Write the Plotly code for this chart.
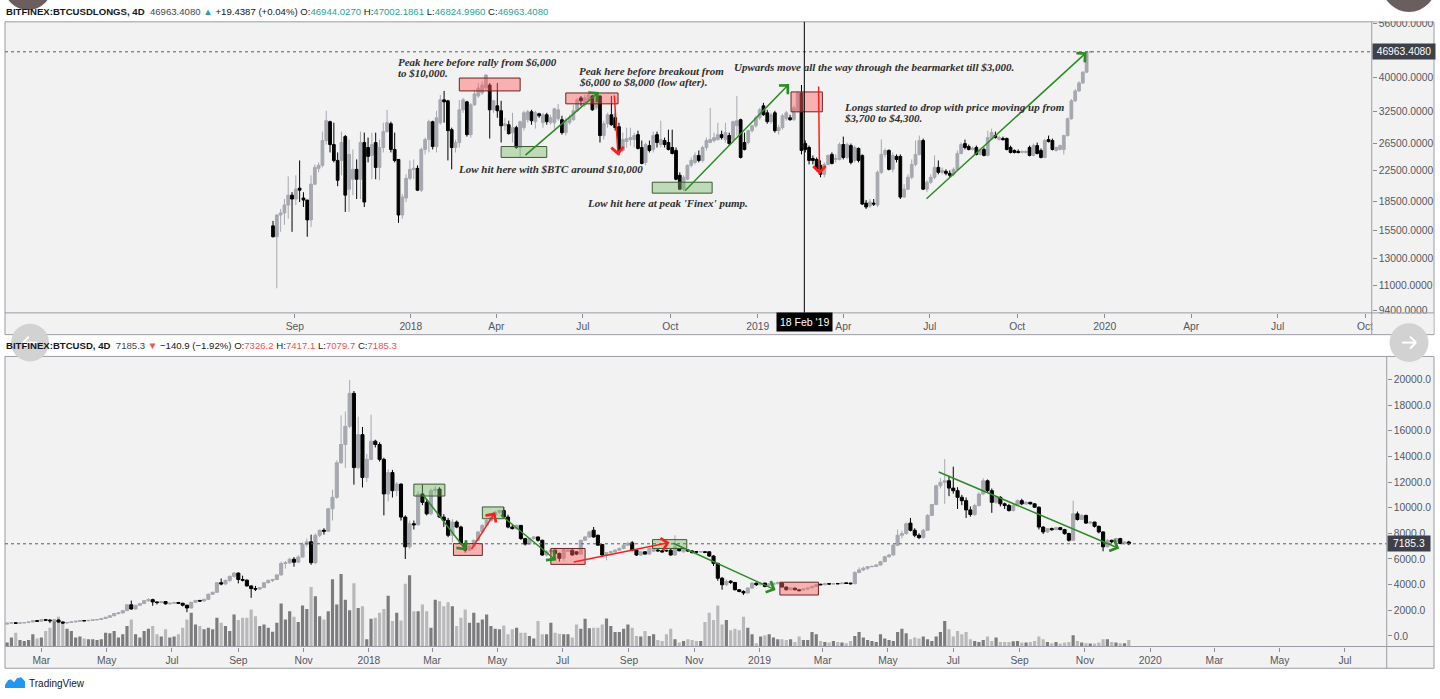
import numpy as np
import pandas as pd
import plotly.graph_objects as go

W, H = 1440, 699

# ===================== DATA =====================
# BITFINEX:BTCUSDLONGS, 4D candles
longs_first_date = "2017-08-09"
longs_open = [
    15910, 14870, 17020, 17240, 18110, 19260, 18800, 20110, 18920, 18680,
    16510, 20620, 22750, 23180, 27050, 30410, 26380, 23900, 23900, 27720,
    19990, 21260, 22610, 21260, 26710, 25900, 24660, 26710, 22890, 25900,
    28590, 30030, 25590, 24050, 17020, 18920, 21390, 22610, 22750, 19870,
    25590, 27210, 30410, 26060, 30220, 34830, 34620, 28940, 25900, 26710,
    32740, 34400, 28060, 33770, 35690, 36360, 37500, 38200, 32740, 33560,
    32550, 29650, 29840, 28410, 29300, 25900, 29300, 30790, 32340, 30410,
    31950, 30220, 31750,
    30220, 30220, 30980, 30790, 28410, 30220, 30790, 32550, 35260, 33770,
    34830, 35690, 33150, 35690, 27900, 30030, 31750, 31160, 29470, 25430,
    26880, 27210, 27210, 28060, 25900, 23610, 26210, 25590, 28060, 26380,
    27050, 26710, 25900, 25430, 21790, 19990, 21260, 23180, 23610, 24660,
    23900, 25900, 26710, 27050, 27210, 28060, 27210, 27900, 27210, 29650,
    30790, 26710, 26710, 28760, 29650, 31160, 33560, 32140, 30410, 32140,
    28760, 29300, 30980, 31160, 30790, 32550, 36360, 26540, 25900, 24200,
    24050, 23180,
    21930, 23320, 24810, 24050, 24050, 26380, 24350, 26210, 23900, 25750,
    24660, 18330, 18000, 18330, 18110, 22200, 24810, 25430, 22610, 24510,
    24510, 19030, 19990, 21520, 23320, 24810, 27050, 19990, 20870, 21520,
    22890, 22200, 22340, 22060, 21930, 22610, 24960, 26540, 26060, 25590,
    25900, 24810, 25590, 24660, 27380, 27900, 27210, 27380, 27380, 25900,
    25430, 25270, 25120, 25120, 25900, 24660, 26210, 25430, 24350, 27210,
    27050, 25430, 25590, 25590, 27900, 30980, 34620, 36820, 38680, 41380,
    46944.0270,
]
longs_high = [
    16410, 17130, 17680, 18800, 21650, 19620, 21790, 23900, 19620, 18700,
    21790, 23320, 23610, 28590, 32550, 30600, 30220, 25120, 28590, 28000,
    27210, 25590, 24050, 28590, 28410, 27550, 28410, 28410, 27210, 30220,
    32740, 30410, 28410, 24100, 19380, 21930, 23900, 24050, 23180, 25900,
    27550, 30790, 30600, 32550, 35910, 36820, 34830, 29300, 27210, 34830,
    35260, 34620, 34190, 37060, 38680, 39130, 40890, 38680, 34830, 38680,
    34620, 31160, 30600, 32140, 29650, 30600, 32550, 32740, 32740, 32550,
    32140, 32140, 32140,
    31750, 33150, 33980, 31550, 31160, 31750, 33770, 35260, 35690, 35910,
    36820, 35910, 36360, 35800, 30600, 32140, 35690, 32140, 30220, 28410,
    29300, 29300, 28410, 28760, 27050, 26710, 27050, 28590, 28590, 30600,
    27550, 28940, 28940, 25900, 22200, 21790, 23320, 24350, 25120, 25430,
    26210, 27550, 33150, 28410, 30220, 28760, 30220, 28410, 30600, 35690,
    30980, 28410, 28940, 29840, 31550, 33150, 34190, 32740, 32140, 32550,
    29840, 31950, 32550, 31750, 33560, 36820, 38200, 27050, 26210, 24660,
    24350, 23900,
    23610, 24810, 25120, 24810, 26710, 27720, 26710, 26540, 26210, 25900,
    24810, 18680, 18800, 18800, 22470, 27210, 25750, 25590, 25120, 24810,
    24810, 20620, 21930, 24050, 27050, 27900, 27380, 21130, 21930, 24660,
    23900, 22890, 22610, 22470, 22890, 25430, 26710, 27210, 26380, 26060,
    26210, 25750, 25900, 28760, 29130, 28590, 27900, 27720, 27550, 26210,
    25590, 25590, 25430, 25430, 26210, 26540, 26710, 25750, 27380, 27900,
    27380, 26060, 26380, 28060, 31160, 35040, 37270, 39130, 41630, 46990,
    47002.1861,
]
longs_low = [
    14800, 10790, 15330, 16010, 16620, 15330, 18110, 18450, 17890, 14870,
    15810, 20490, 22200, 22890, 26380, 25120, 23610, 20360, 21790, 17350,
    17350, 19260, 18800, 18800, 17890, 23610, 21260, 21260, 21130, 25120,
    28410, 25120, 23610, 16210, 16620, 18450, 21130, 21260, 19750, 19620,
    24810, 25120, 25590, 25120, 29840, 30220, 23900, 22610, 25120, 25900,
    32140, 27720, 27550, 33560, 35260, 35910, 36820, 27380, 32140, 31160,
    26710, 28760, 28060, 26710, 25700, 24350, 28760, 30220, 29840, 29130,
    31160, 29300, 29840,
    29840, 29130, 30600, 28060, 27900, 29840, 30600, 32340, 33560, 33360,
    34400, 32550, 32740, 26710, 27210, 29300, 29650, 28760, 24660, 25120,
    25900, 26210, 25900, 25590, 23320, 23180, 25120, 25120, 25900, 25900,
    25900, 25430, 24810, 21130, 19870, 19750, 21130, 22890, 23320, 23610,
    23610, 25430, 26710, 26710, 27050, 27210, 26710, 26210, 26710, 27900,
    24200, 25430, 26380, 28410, 29300, 30790, 31550, 30030, 30030, 28410,
    28060, 28940, 30600, 30600, 30600, 32140, 24810, 25120, 23320, 23320,
    22340, 21520,
    21520, 23180, 23320, 23610, 23900, 24050, 24050, 23320, 23610, 23610,
    18110, 17680, 17780, 18000, 17890, 21930, 24350, 22470, 22200, 23610,
    18800, 18920, 19870, 21260, 23040, 24660, 19870, 19620, 20620, 21260,
    21930, 21930, 21790, 21520, 21650, 22470, 24810, 25590, 25430, 25430,
    24660, 24660, 24510, 24510, 27210, 27380, 27050, 27050, 25430, 24960,
    24960, 24960, 24960, 24960, 24510, 24510, 24810, 24200, 24200, 26710,
    25430, 25270, 25430, 24810, 27720, 30790, 34400, 36590, 38440, 41140,
    46824.9960,
]
longs_close = [
    14870, 17020, 17240, 18110, 19260, 18800, 19990, 19870, 18680, 16510,
    20620, 22890, 23180, 27050, 30600, 26380, 23900, 21130, 26710, 19260,
    24810, 22610, 21260, 26710, 18450, 24510, 26380, 22890, 25900, 28590,
    30220, 25590, 23900, 17020, 19030, 21390, 22610, 22750, 19870, 25590,
    27210, 30410, 26060, 31160, 34830, 34400, 28760, 25900, 26710, 32740,
    34830, 28060, 33770, 36150, 37500, 38200, 40640, 32740, 34620, 32550,
    29650, 30030, 28240, 29300, 25900, 30410, 32140, 32340, 30600, 32140,
    31550, 31750, 30410,
    31160, 32940, 32740, 28410, 30600, 31160, 32550, 34830, 34620, 35260,
    35910, 32740, 35910, 27900, 30030, 31750, 29840, 29300, 25430, 27210,
    27380, 27550, 27900, 25750, 23460, 26380, 25430, 27900, 26710, 27210,
    26380, 25590, 24960, 21260, 19990, 21520, 23180, 23900, 24660, 23900,
    25900, 27050, 27210, 27550, 28060, 27550, 28410, 26540, 30410, 30600,
    24350, 25590, 28760, 29650, 31160, 32740, 31750, 30410, 31750, 28760,
    29300, 31550, 32140, 30790, 33150, 36360, 25430, 25590, 23900, 23900,
    22610, 21930,
    23320, 24660, 23460, 24200, 26380, 24350, 26380, 23610, 25900, 23900,
    18220, 17890, 18450, 18220, 22200, 24810, 25430, 22610, 24660, 24050,
    19030, 19990, 21520, 23320, 24810, 27050, 19990, 20870, 21520, 22890,
    22200, 22470, 22060, 21790, 22610, 24960, 26380, 25900, 25590, 25750,
    24810, 25430, 24660, 27550, 28410, 27550, 27550, 27210, 25590, 25120,
    25120, 25120, 25270, 25270, 24660, 26210, 24960, 24350, 27050, 26880,
    25590, 25900, 26210, 27900, 30980, 34620, 36820, 38680, 41380, 46943.9693,
    46963.4080,
]
longs_price_ticks = [9400, 11000, 13000, 15500, 18500, 22500, 26500, 32500, 40000, 56000]

# BITFINEX:BTCUSD, 4D candles + volume
btc_first_date = "2017-01-28"
btc_open = [
    920, 995, 1020, 990, 1010, 1040, 1085, 1180, 1150, 1260,
    1230, 1180, 1240, 1080, 1010, 1050, 1090, 1140, 1190, 1180,
    1210, 1250, 1280, 1360, 1450, 1570, 1750, 1790, 1970, 2430,
    2100, 2390, 2520, 2750, 2830, 2650, 2600, 2680, 2500, 2550,
    2600, 2550, 2400, 2180, 2620, 2770, 2720, 2850, 3250, 3400,
    4150, 4050, 4330, 4650, 4900, 4400, 4350, 3900, 3700, 3650,
    3770, 4150, 4330, 4400, 4760, 5650, 5700, 5980, 5750, 6150,
    7150, 7340, 5710, 7850, 8240, 8170, 9910, 10810, 13510, 14930,
    16350, 18920, 13130, 15700, 12360, 13770, 15190, 14930, 13770, 11070,
    12740, 11330, 11840, 9270, 6950, 8750, 8670, 11070, 10420, 9520,
    11330, 11450, 9270, 9010, 7850, 8880, 8490, 7210, 6690, 7000,
    7460, 8110, 8620, 9010, 9400, 9650, 9780, 9270, 8490, 8370,
    8620, 7590, 7160, 7590, 7720, 7460, 6310, 6560, 6690, 6430,
    6050, 6600, 6690, 6560, 6380, 7460, 7720, 8240, 7850, 7130,
    6310, 6490, 6560, 6690, 6820, 7080, 7260, 6690, 6310, 6560,
    6380, 6600, 6700, 6640, 6680, 6690, 6310, 6820, 6560, 6700,
    6620, 6560, 6540, 6560, 6560, 6230, 5660, 4500, 3990, 4270,
    4170, 3600, 3470, 3350, 3730, 4120, 3990, 4120, 3920, 3990,
    4070, 4120, 3810, 3600, 3730, 3600, 3580, 3650, 3760, 3860,
    4030, 3990, 4070, 4050, 4080, 4070, 4140, 4120, 4070, 4940,
    5150, 5280, 5400, 5420, 5530, 5790, 6180, 6310, 7080, 7850,
    7980, 8800, 8240, 7850, 7670, 8240, 9400, 10250, 11710, 11970,
    12100, 11530, 11330, 10810, 10550, 9830, 9470, 10170, 11070, 12100,
    11330, 10420, 10810, 10300, 10170, 9780, 10170, 10550, 10300, 10420,
    10300, 10040, 8490, 8110, 8370, 8290, 8440, 8290, 7980, 7460,
    9520, 9080, 9400, 8800, 8880, 8550, 8110, 6950, 7460, 7340,
    7590, 7210, 7326.2,
]
btc_high = [
    1005, 1030, 1040, 1020, 1045, 1090, 1190, 1210, 1280, 1290,
    1320, 1260, 1260, 1110, 1070, 1100, 1160, 1210, 1230, 1220,
    1260, 1300, 1380, 1480, 1620, 1780, 1860, 2000, 2450, 2760,
    2420, 2550, 2800, 2950, 2900, 2700, 2720, 2700, 2580, 2650,
    2650, 2580, 2420, 2650, 2800, 2800, 2900, 3300, 3450, 4200,
    4480, 4400, 4700, 4980, 4950, 4700, 4400, 3950, 3900, 3800,
    4200, 4400, 4450, 4800, 5800, 5850, 6100, 6150, 6300, 7300,
    7600, 7900, 8000, 8300, 8400, 10000, 11400, 13700, 17200, 17500,
    19950, 19100, 17100, 16300, 14200, 17250, 15300, 15100, 13900, 13000,
    12950, 12000, 11900, 9400, 9000, 9000, 11300, 11800, 10700, 11500,
    11700, 11600, 9500, 9200, 9100, 9000, 8600, 7300, 7100, 7500,
    8200, 8700, 9100, 9500, 9750, 9850, 10050, 9450, 8650, 8700,
    8650, 7650, 7650, 7800, 7750, 7500, 6700, 6800, 6750, 6500,
    6800, 6800, 6750, 6600, 7500, 7800, 8200, 8500, 7900, 7150,
    6550, 6650, 6750, 6900, 7150, 7350, 7400, 6700, 6600, 6600,
    6850, 6850, 6750, 6700, 6720, 6750, 7850, 6850, 6800, 6750,
    6700, 6620, 6620, 6620, 6600, 6300, 5700, 4600, 4400, 4350,
    4200, 3650, 3550, 3800, 4200, 4150, 4150, 4150, 4100, 4150,
    4250, 4150, 3850, 3780, 3750, 3620, 3700, 3750, 3900, 4050,
    4070, 4150, 4100, 4120, 4100, 4150, 4160, 4150, 5050, 5350,
    5400, 5450, 5500, 5600, 5850, 6250, 6400, 7150, 8300, 8200,
    8850, 9200, 8400, 8000, 8350, 9500, 10300, 11800, 12300, 13800,
    12500, 13200, 11600, 11000, 10800, 10100, 10300, 11200, 12300, 12200,
    11500, 10900, 10900, 10400, 10300, 10300, 10650, 10700, 10500, 10450,
    10350, 10100, 8550, 8400, 8450, 8500, 8500, 8350, 8050, 10550,
    9700, 9500, 9450, 8950, 8900, 8600, 8150, 7550, 7500, 7650,
    7650, 7400, 7417.1,
]
btc_low = [
    910, 985, 960, 975, 1000, 1030, 1080, 1120, 1140, 1170,
    1000, 1160, 1050, 940, 950, 1030, 1070, 1130, 1160, 1170,
    1195, 1210, 1270, 1340, 1440, 1550, 1660, 1760, 1950, 2050,
    2050, 2350, 2500, 2650, 2350, 2450, 2550, 2450, 2450, 2500,
    2500, 2300, 1850, 2150, 2580, 2650, 2700, 2800, 3200, 3380,
    3950, 4000, 4200, 4550, 4100, 4250, 3850, 2970, 3500, 3580,
    3750, 4100, 4200, 4380, 4700, 5250, 5600, 5400, 5700, 6100,
    6950, 5550, 5600, 7700, 7900, 8100, 9000, 10700, 13400, 13100,
    16200, 11800, 13000, 11580, 12000, 13700, 14700, 13600, 9400, 10500,
    10800, 10900, 9000, 6000, 6800, 8300, 8600, 10200, 9400, 9400,
    11000, 9200, 8500, 7700, 7300, 8400, 7100, 6500, 6600, 6900,
    7400, 8000, 8500, 8900, 9300, 9500, 9200, 8400, 8300, 8300,
    7500, 7050, 7100, 7500, 7350, 6250, 6200, 6450, 6350, 5800,
    5850, 6550, 6250, 6300, 6350, 7400, 7650, 7650, 7050, 6250,
    5900, 6300, 6450, 6600, 6750, 7000, 6600, 6250, 6250, 6350,
    6350, 6550, 6550, 6500, 6550, 6250, 6250, 6600, 6500, 6550,
    6450, 6480, 6500, 6450, 6150, 5450, 4300, 3600, 3900, 4050,
    3550, 3400, 3200, 3300, 3700, 3900, 3950, 3800, 3880, 3950,
    4050, 3780, 3550, 3580, 3560, 3480, 3550, 3620, 3700, 3820,
    3960, 3950, 4010, 4000, 4050, 4050, 4050, 4020, 4050, 4900,
    5050, 5150, 5350, 5380, 5500, 5750, 6100, 6250, 7000, 7600,
    7900, 8150, 7700, 7550, 7600, 8200, 9350, 10200, 11500, 10300,
    10900, 11100, 9900, 10200, 9200, 9300, 9350, 10100, 11000, 11200,
    9600, 10300, 10100, 9900, 9700, 9700, 10100, 10200, 10200, 10250,
    10000, 8300, 7950, 8050, 8200, 8250, 8250, 7900, 7350, 7400,
    9000, 9050, 8750, 8700, 8450, 8000, 6600, 6900, 7250, 7300,
    7150, 7100, 7079.7,
]
btc_close = [
    995, 1020, 990, 1010, 1040, 1085, 1180, 1150, 1260, 1230,
    1180, 1240, 1080, 1010, 1050, 1090, 1140, 1190, 1180, 1210,
    1250, 1280, 1360, 1450, 1570, 1750, 1790, 1970, 2430, 2100,
    2390, 2520, 2750, 2830, 2650, 2600, 2680, 2500, 2550, 2600,
    2550, 2400, 2180, 2620, 2770, 2720, 2850, 3250, 3400, 4150,
    4050, 4330, 4650, 4900, 4400, 4350, 3900, 3700, 3650, 3770,
    4150, 4330, 4400, 4760, 5650, 5700, 5980, 5750, 6150, 7150,
    7340, 5710, 7850, 8240, 8170, 9910, 10810, 13510, 14930, 16350,
    18920, 13130, 15700, 12360, 13770, 15190, 14930, 13770, 11070, 12740,
    11330, 11840, 9270, 6950, 8750, 8670, 11070, 10420, 9520, 11330,
    11450, 9270, 9010, 7850, 8880, 8490, 7210, 6690, 7000, 7460,
    8110, 8620, 9010, 9400, 9650, 9780, 9270, 8490, 8370, 8620,
    7590, 7160, 7590, 7720, 7460, 6310, 6560, 6690, 6430, 6050,
    6740, 6690, 6310, 6380, 7460, 7720, 8110, 7720, 7080, 6310,
    6490, 6560, 6690, 6820, 7080, 7210, 6690, 6310, 6560, 6380,
    6820, 6820, 6640, 6560, 6640, 6310, 6950, 6640, 6740, 6640,
    6490, 6540, 6580, 6520, 6230, 5660, 4500, 3990, 4250, 4170,
    3600, 3470, 3350, 3730, 4120, 3990, 4120, 3860, 4070, 4120,
    4170, 3810, 3600, 3730, 3600, 3530, 3650, 3730, 3860, 3990,
    3990, 4070, 4050, 4070, 4070, 4120, 4090, 4070, 4940, 5150,
    5280, 5400, 5420, 5530, 5790, 6180, 6310, 7080, 7850, 7980,
    8750, 8240, 7850, 7670, 8240, 9400, 10250, 11710, 11970, 12100,
    11530, 11330, 10810, 10550, 9830, 9470, 10170, 11070, 12100, 11330,
    10420, 10810, 10300, 10170, 9780, 10170, 10550, 10300, 10420, 10300,
    10040, 8490, 8110, 8370, 8290, 8440, 8290, 7980, 7460, 9520,
    9080, 9400, 8800, 8880, 8550, 8110, 6950, 7460, 7340, 7590,
    7210, 7326.2, 7185.3,
]
btc_volume = [
    12, 27, 42, 20, 17, 20, 37, 24, 27, 47,
    57, 82, 90, 77, 54, 47, 27, 30, 24, 22,
    22, 20, 22, 42, 40, 47, 27, 37, 62, 82,
    37, 27, 47, 54, 62, 37, 30, 52, 27, 30,
    37, 57, 82, 102, 67, 62, 52, 57, 52, 87,
    72, 62, 47, 97, 80, 87, 87, 112, 92, 62,
    67, 57, 45, 72, 130, 82, 107, 90, 74, 124,
    114, 180, 152, 92, 82, 107, 204, 127, 220, 142,
    110, 192, 117, 122, 22, 84, 87, 102, 114, 154,
    77, 102, 79, 190, 216, 107, 107, 127, 107, 57,
    142, 137, 122, 134, 122, 62, 87, 112, 72, 102,
    72, 82, 97, 62, 54, 52, 64, 37, 52, 57,
    42, 42, 32, 24, 77, 37, 37, 72, 42, 39,
    37, 37, 27, 67, 54, 84, 55, 57, 57, 67,
    85, 62, 44, 44, 54, 67, 57, 32, 30, 47,
    32, 37, 20, 17, 37, 54, 22, 12, 17, 22,
    20, 17, 17, 74, 102, 80, 124, 67, 80, 49,
    54, 49, 90, 57, 37, 10, 30, 34, 37, 27,
    22, 22, 20, 22, 14, 30, 20, 20, 44, 37,
    17, 14, 12, 17, 14, 12, 10, 17, 32, 44,
    27, 20, 17, 14, 37, 24, 20, 17, 44, 54,
    40, 22, 27, 24, 30, 22, 17, 30, 44, 77,
    52, 30, 47, 37, 44, 22, 17, 14, 20, 30,
    17, 27, 14, 14, 14, 16, 17, 12, 12, 14,
    17, 30, 22, 14, 10, 14, 9, 12, 14, 34,
    17, 12, 10, 9, 9, 12, 22, 22, 14, 12,
    10, 10, 20,
]
btc_price_ticks = [0, 2000, 4000, 6000, 8000, 10000, 12000, 14000, 16000, 18000, 20000]

top_date_ticks = ["2017-09-01", "2018-01-01", "2018-04-01", "2018-07-01", "2018-10-01",
                  "2019-01-01", "2019-04-01", "2019-07-01", "2019-10-01", "2020-01-01",
                  "2020-04-01", "2020-07-01", "2020-10-01"]
top_date_labels = ["Sep", "2018", "Apr", "Jul", "Oct", "2019", "Apr", "Jul", "Oct",
                   "2020", "Apr", "Jul", "Oct"]
bot_date_ticks = ["2017-03-01", "2017-05-01", "2017-07-01", "2017-09-01", "2017-11-01",
                  "2018-01-01", "2018-03-01", "2018-05-01", "2018-07-01", "2018-09-01",
                  "2018-11-01", "2019-01-01", "2019-03-01", "2019-05-01", "2019-07-01",
                  "2019-09-01", "2019-11-01", "2020-01-01", "2020-03-01", "2020-05-01",
                  "2020-07-01"]
bot_date_labels = ["Mar", "May", "Jul", "Sep", "Nov", "2018", "Mar", "May", "Jul", "Sep",
                   "Nov", "2019", "Mar", "May", "Jul", "Sep", "Nov", "2020", "Mar", "May", "Jul"]

longs_dates = pd.date_range(longs_first_date, periods=len(longs_close), freq="4D")
btc_dates = pd.date_range(btc_first_date, periods=len(btc_close), freq="4D")

# ===================== STYLE =====================
UP = "#a6a8b0"
DOWN = "#000000"
BG = "#f2f2f2"
FRAME = "#9a9ca4"
TICK = "#54575f"
TEAL = "#26a69a"
REDV = "#ef5350"
SANS = "Liberation Sans"
SERIF = "Liberation Serif"
GREEN = "#2a8c22"
RED = "#ff1e1e"

TOP_LOG_RANGE = [np.log10(9262), np.log10(56590)]


def px(x):
    return x / W


def py(y):
    return 1 - y / H


def lg(v):
    return float(np.log10(v))


def top_frac(p):
    # position of a price inside the top (log) pane, as a fraction of its height
    return (lg(p) - TOP_LOG_RANGE[0]) / (TOP_LOG_RANGE[1] - TOP_LOG_RANGE[0])


fig = go.Figure()

fig.add_trace(go.Candlestick(
    x=longs_dates, open=longs_open, high=longs_high, low=longs_low, close=longs_close,
    xaxis="x", yaxis="y", whiskerwidth=0, hoverinfo="skip", showlegend=False,
    increasing=dict(line=dict(color=UP, width=1), fillcolor=UP),
    decreasing=dict(line=dict(color=DOWN, width=1), fillcolor=DOWN)))

vol_colors = ["#7c7c7e" if c >= o else "#b9b9bb" for o, c in zip(btc_open, btc_close)]
fig.add_trace(go.Bar(
    x=btc_dates, y=btc_volume, xaxis="x2", yaxis="y2", width=4 * 86400000 * 0.74,
    marker=dict(color=vol_colors, line=dict(width=0)), hoverinfo="skip", showlegend=False))

fig.add_trace(go.Candlestick(
    x=btc_dates, open=btc_open, high=btc_high, low=btc_low, close=btc_close,
    xaxis="x2", yaxis="y3", whiskerwidth=0, hoverinfo="skip", showlegend=False,
    increasing=dict(line=dict(color=UP, width=1), fillcolor=UP),
    decreasing=dict(line=dict(color=DOWN, width=1), fillcolor=DOWN)))

tickfont = dict(family=SANS, size=10.3, color=TICK)
common_x = dict(type="date", showgrid=False, zeroline=False, showline=False, ticks="outside",
                ticklen=4, tickcolor="#8a8d95", tickfont=tickfont, rangeslider=dict(visible=False),
                fixedrange=True)
common_y = dict(showgrid=False, zeroline=False, showline=False, ticks="outside", ticklen=4,
                tickcolor="#8a8d95", tickfont=tickfont, side="right", fixedrange=True)

fig.update_layout(
    width=W, height=H, margin=dict(l=0, r=0, t=0, b=0),
    paper_bgcolor="white", plot_bgcolor=BG, showlegend=False, hovermode=False,
    boxgap=0.15, boxgroupgap=0.15, bargap=0.2,
    font=dict(family=SANS, size=10, color="#131722"),
    xaxis=dict(common_x, domain=[px(5), px(1372.7)], range=["2016-10-31", "2020-10-08"],
               anchor="y", tickvals=top_date_ticks, ticktext=top_date_labels),
    yaxis=dict(common_y, domain=[py(312), py(18)], type="log",
               range=TOP_LOG_RANGE, anchor="x",
               tickvals=longs_price_ticks, ticktext=[f"{v:.4f}" for v in longs_price_ticks]),
    xaxis2=dict(common_x, domain=[px(5), px(1387.7)], range=["2017-01-26", "2020-08-09"],
                anchor="y2", tickvals=bot_date_ticks, ticktext=bot_date_labels),
    yaxis2=dict(domain=[py(649), py(356)], range=[0, 879], visible=False, anchor="x2",
                fixedrange=True),
    yaxis3=dict(common_y, overlaying="y2", anchor="x2", range=[-826, 21800],
                tickvals=btc_price_ticks, ticktext=[f"{v:.1f}" for v in btc_price_ticks]),
)


# ===================== FRAME / DRAWINGS =====================
def rect_px(x0, y0, x1, y1, **kw):
    return dict(type="rect", xref="paper", yref="paper", x0=px(x0), x1=px(x1),
                y0=py(y1), y1=py(y0), **kw)


def line_px(x0, y0, x1, y1, color=FRAME, width=1):
    return dict(type="line", xref="paper", yref="paper", x0=px(x0), x1=px(x1),
                y0=py(y0), y1=py(y1), line=dict(color=color, width=width), layer="above")


def circle_px(cx, cy, r, color):
    return dict(type="circle", xref="paper", yref="paper", x0=px(cx - r), x1=px(cx + r),
                y0=py(cy + r), y1=py(cy - r), fillcolor=color, line=dict(width=0), layer="above")


def nav_arrow(cx, cy, direction):
    # white arrow glyph of the screenshot's navigation buttons, drawn as lines
    s = direction
    segs = [(cx - 7 * s, cy, cx + 7 * s, cy), (cx + 7 * s, cy, cx + 1 * s, cy - 6),
            (cx + 7 * s, cy, cx + 1 * s, cy + 6)]
    return [line_px(a, b, c, d, color="white", width=2) for a, b, c, d in segs]


shapes = [
    rect_px(5, 18, 1435, 334, fillcolor=BG, line=dict(color=FRAME, width=1), layer="below"),
    rect_px(5, 356, 1435, 671, fillcolor=BG, line=dict(color=FRAME, width=1), layer="below"),
]

BOX_STYLE = {
    "red": ("rgba(255,95,95,0.45)", "#6e2323"),
    "green": ("rgba(120,185,100,0.42)", "#3c5a35"),
}

top_boxes = [
    ("2018-02-21", "2018-04-26", 36820, 39890, "red"),
    ("2018-04-06", "2018-05-24", 24350, 26060, "green"),
    ("2018-06-13", "2018-08-07", 33980, 36360, "red"),
    ("2018-09-12", "2018-11-14", 19500, 20870, "green"),
    ("2019-02-05", "2019-03-10", 32340, 36590, "red"),
]
bot_boxes = [
    ("2018-02-12", "2018-03-13", 10910, 11840, "green"),
    ("2018-03-21", "2018-04-17", 6280, 7200, "red"),
    ("2018-04-17", "2018-05-07", 9140, 10060, "green"),
    ("2018-06-20", "2018-07-22", 5580, 6820, "red"),
    ("2018-09-23", "2018-10-25", 6820, 7510, "green"),
    ("2019-01-20", "2019-02-25", 3190, 4190, "red"),
]
for d0, d1, p0, p1, kind in top_boxes:
    fill, edge = BOX_STYLE[kind]
    shapes.append(dict(type="rect", xref="x", yref="y domain", x0=d0, x1=d1,
                       y0=top_frac(p0), y1=top_frac(p1), fillcolor=fill,
                       line=dict(color=edge, width=1), layer="above"))
for d0, d1, p0, p1, kind in bot_boxes:
    fill, edge = BOX_STYLE[kind]
    shapes.append(dict(type="rect", xref="x2", yref="y3", x0=d0, x1=d1, y0=p0, y1=p1,
                       fillcolor=fill, line=dict(color=edge, width=1), layer="above"))

last_long = longs_close[-1]
last_btc = btc_close[-1]
shapes += [
    dict(type="line", xref="x domain", x0=0, x1=1, yref="y domain",
         y0=top_frac(last_long), y1=top_frac(last_long),
         line=dict(color="#5c5c5c", width=1, dash="dot"), layer="above"),
    dict(type="line", xref="x2 domain", x0=0, x1=1, yref="y3", y0=last_btc, y1=last_btc,
         line=dict(color="#5c5c5c", width=1, dash="dot"), layer="above"),
    dict(type="line", xref="x", x0="2019-02-19", x1="2019-02-19", yref="y domain", y0=0, y1=1,
         line=dict(color="#000000", width=1), layer="above"),
    # covers that clip the price-scale labels like the original pane does
    rect_px(1373.5, 0, 1440, 17.5, fillcolor="white", line=dict(width=0), layer="above"),
    rect_px(1373.5, 312.6, 1434.5, 333.4, fillcolor=BG, line=dict(width=0), layer="above"),
    line_px(5, 312, 1435, 312), line_px(1372.7, 18, 1372.7, 334),
    line_px(5, 649, 1435, 649), line_px(1387.7, 356, 1387.7, 671),
    # window controls of the screenshot
    circle_px(28, -18, 24, "#6a5e5e"),
    circle_px(1410, -19, 27, "#6a5e5e"),
    circle_px(30, 342, 19, "#d2d2d2"),
    circle_px(1410, 342, 19.5, "#d2d2d2"),
]
shapes += nav_arrow(30, 342, -1)
shapes += nav_arrow(1410, 342, 1)

# TradingView logo mark
logo_pts = [(5, 691), (5, 688), (8, 683), (11, 682), (14, 685), (17, 681), (21, 680), (25, 684),
            (25, 691)]
logo_path = "M " + " L ".join(f"{px(x):.6f},{py(y):.6f}" for x, y in logo_pts) + " Z"
shapes.append(dict(type="path", xref="paper", yref="paper", path=logo_path,
                   fillcolor="#2196f3", line=dict(width=0), layer="above"))

annotations = []


def arrow(d0, p0, d1, p1, color, xref, yref, log):
    f = lg if log else float
    return dict(x=d1, y=f(p1), ax=d0, ay=f(p0), xref=xref, yref=yref, axref=xref, ayref=yref,
                text="", showarrow=True, arrowhead=4, arrowsize=1.6, arrowwidth=1.5,
                arrowcolor=color, standoff=0)


top_arrows = [
    ("2018-04-30", 24510, "2018-07-18", 36590, GREEN),
    ("2018-08-03", 36130, "2018-08-07", 24660, RED),
    ("2018-10-15", 19620, "2019-02-03", 38440, GREEN),
    ("2019-03-06", 38200, "2019-03-07", 21930, RED),
    ("2019-06-26", 18670, "2019-12-13", 46830, GREEN),
]
bot_arrows = [
    ("2018-02-20", 11070, "2018-04-02", 6660, GREEN),
    ("2018-04-06", 6660, "2018-04-29", 9650, RED),
    ("2018-05-03", 9520, "2018-06-25", 5890, GREEN),
    ("2018-07-10", 5740, "2018-10-09", 7280, RED),
    ("2018-10-11", 7280, "2019-01-16", 3580, GREEN),
    ("2019-06-16", 12840, "2019-12-03", 6820, GREEN),
]
for a in top_arrows:
    annotations.append(arrow(*a, "x", "y", True))
for a in bot_arrows:
    annotations.append(arrow(*a, "x2", "y3", False))

notes = [
    ("2017-12-16", 44020, "Peak here before rally from &#36;6,000"),
    ("2017-12-16", 41140, "to &#36;10,000."),
    ("2018-02-18", 22610, "Low hit here with &#36;BTC around &#36;10,000"),
    ("2018-06-25", 41640, "Peak here before breakout from"),
    ("2018-06-25", 38920, "&#36;6,000 to &#36;8,000 (low after)."),
    ("2018-07-03", 18340, "Low hit here at peak 'Finex' pump."),
    ("2018-12-05", 42690, "Upwards move all the way through the bearmarket till &#36;3,000."),
    ("2019-03-31", 33360, "Longs started to drop with price moving up from"),
    ("2019-03-31", 31160, "&#36;3,700 to &#36;4,300."),
]
for d, p, t in notes:
    annotations.append(dict(x=d, y=lg(p), xref="x", yref="y", text=t, showarrow=False,
                            xanchor="left", yanchor="middle",
                            font=dict(family=SERIF, size=11, color="#2e2e2e",
                                      style="italic", weight="bold")))


def signed(v, fmt):
    s = format(v, fmt)
    return s.replace("-", "\u2212")


l_prev = longs_close[-2]
l_chg = last_long - l_prev
b_prev = btc_close[-2]
b_chg = last_btc - b_prev
top_header = (
    f"<b>BITFINEX:BTCUSDLONGS, 4D</b>  <span style='color:#434651'>{last_long:.4f}</span> "
    f"<span style='color:{TEAL}'>{'▲' if l_chg >= 0 else '▼'}</span> "
    f"{signed(l_chg, '+.4f')} ({signed(l_chg / l_prev * 100, '+.2f')}%) "
    f"O:<span style='color:{TEAL}'>{longs_open[-1]:.4f}</span> "
    f"H:<span style='color:{TEAL}'>{longs_high[-1]:.4f}</span> "
    f"L:<span style='color:{TEAL}'>{longs_low[-1]:.4f}</span> "
    f"C:<span style='color:{TEAL}'>{last_long:.4f}</span>")
bot_header = (
    f"<b>BITFINEX:BTCUSD, 4D</b>  <span style='color:#434651'>{last_btc:.1f}</span> "
    f"<span style='color:{REDV}'>{'▲' if b_chg >= 0 else '▼'}</span> "
    f"{signed(b_chg, '+.1f')} ({signed(b_chg / b_prev * 100, '+.2f')}%) "
    f"O:<span style='color:{REDV}'>{btc_open[-1]:.1f}</span> "
    f"H:<span style='color:{REDV}'>{btc_high[-1]:.1f}</span> "
    f"L:<span style='color:{REDV}'>{btc_low[-1]:.1f}</span> "
    f"C:<span style='color:{REDV}'>{last_btc:.1f}</span>")

annotations += [
    dict(x=px(4), y=py(7.5), xref="paper", yref="paper", text=top_header, showarrow=False,
         xanchor="left", yanchor="middle", font=dict(family=SANS, size=9.6, color="#131722")),
    dict(x=px(4), y=py(345), xref="paper", yref="paper", text=bot_header, showarrow=False,
         xanchor="left", yanchor="middle", font=dict(family=SANS, size=9.6, color="#131722")),
    dict(x=px(1373), y=lg(last_long), xref="paper", yref="y", text=f"{last_long:.4f}",
         showarrow=False, xanchor="left", yanchor="middle", bgcolor="#3d4049", width=58,
         borderpad=2, font=dict(family=SANS, size=10.3, color="white")),
    dict(x=px(1388), y=last_btc, xref="paper", yref="y3", text=f"{last_btc:.1f}",
         showarrow=False, xanchor="left", yanchor="middle", bgcolor="#3d4049", width=38,
         borderpad=2, font=dict(family=SANS, size=10.3, color="white")),
    dict(x="2019-02-19", y=py(321.5), xref="x", yref="paper", text="18 Feb '19",
         showarrow=False, xanchor="center", yanchor="middle", bgcolor="#000000", borderpad=3,
         font=dict(family=SANS, size=10.5, color="white")),
    dict(x=px(27), y=py(686), xref="paper", yref="paper", text="TradingView", showarrow=False,
         xanchor="left", yanchor="middle", font=dict(family=SANS, size=10, color="#131722")),
]

fig.update_layout(shapes=shapes, annotations=annotations)

fig.write_html("out.html", config={"displayModeBar": False},
               post_script="document.body.style.margin='0';document.body.style.overflow='hidden';")
